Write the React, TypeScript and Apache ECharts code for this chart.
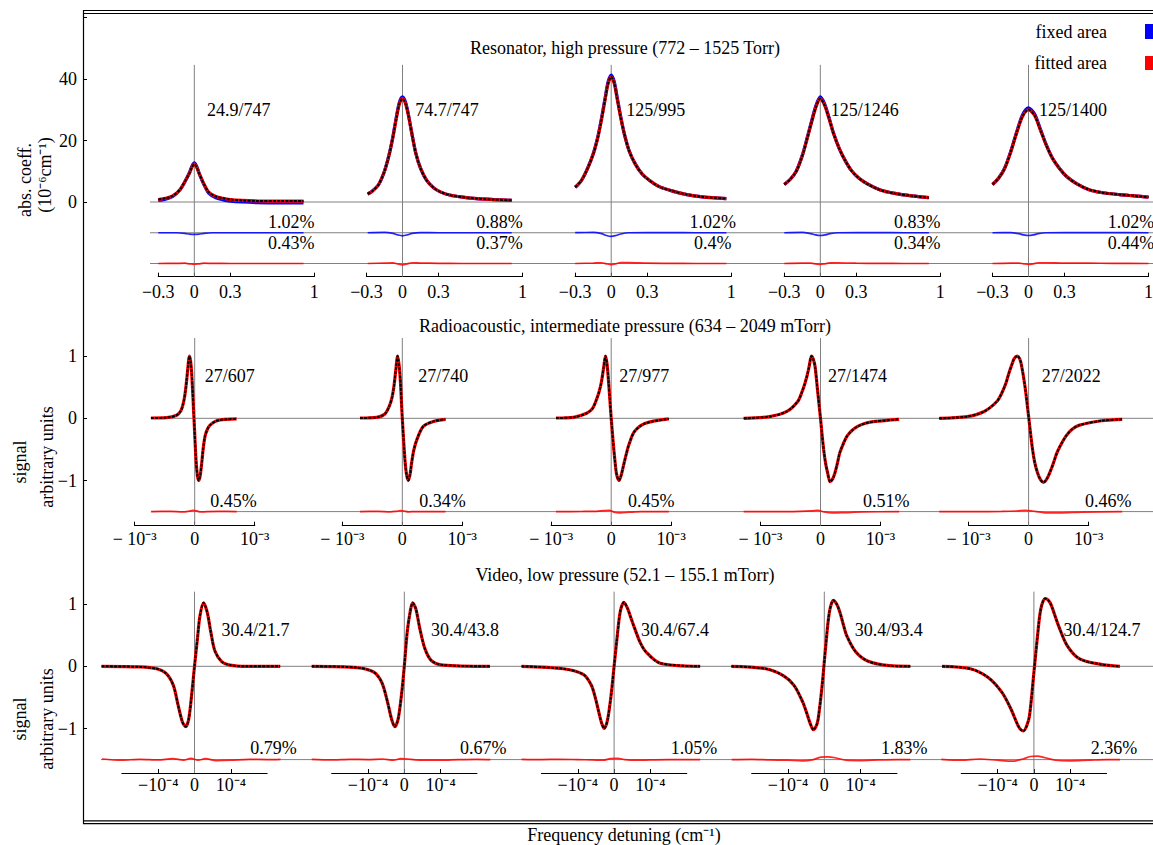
import React, { useEffect, useRef } from "react";
import * as echarts from "echarts";

// ---------- Resonator, high pressure: detuning (cm⁻¹), absorption (10⁻⁶ cm⁻¹) ----------
const resonatorDetuning = [
  [-0.30, -0.24, -0.18, -0.12, -0.08, -0.04, -0.02, 0, 0.02, 0.04, 0.08, 0.12, 0.18, 0.24, 0.30, 0.40, 0.52, 0.70, 0.91],
  [-0.29, -0.25, -0.20, -0.15, -0.11, -0.08, -0.05, -0.025, 0, 0.025, 0.05, 0.08, 0.11, 0.15, 0.20, 0.26, 0.32, 0.40, 0.50, 0.62, 0.76, 0.91],
  [-0.30, -0.25, -0.20, -0.15, -0.11, -0.08, -0.05, -0.025, 0, 0.025, 0.05, 0.08, 0.11, 0.15, 0.20, 0.26, 0.32, 0.40, 0.50, 0.62, 0.76, 0.96],
  [-0.30, -0.25, -0.20, -0.15, -0.11, -0.07, -0.035, 0, 0.035, 0.07, 0.11, 0.16, 0.21, 0.26, 0.32, 0.40, 0.50, 0.62, 0.76, 0.905],
  [-0.30, -0.25, -0.20, -0.15, -0.10, -0.05, 0, 0.05, 0.10, 0.15, 0.20, 0.26, 0.32, 0.40, 0.50, 0.62, 0.76, 0.88, 1.0],
];
const resonatorAbsorption = [
  [0.8, 1.2, 2.0, 4.0, 6.5, 9.4, 11.3, 12.3, 11.3, 9.3, 5.9, 3.2, 1.8, 1.2, 0.8, 0.5, 0.35, 0.3, 0.3],
  [2.6, 3.6, 5.6, 10.0, 15.5, 21.0, 27.5, 32.0, 33.6, 32.0, 28.0, 21.8, 16.0, 11.0, 7.1, 4.6, 3.2, 2.2, 1.6, 1.1, 0.8, 0.55],
  [4.8, 6.9, 10.6, 15.5, 21.2, 27.0, 33.5, 38.6, 40.7, 38.6, 33.5, 27.3, 22.0, 16.6, 12.4, 9.0, 7.0, 5.0, 3.7, 2.5, 1.65, 1.1],
  [5.7, 7.4, 10.0, 15.0, 20.5, 26.3, 31.0, 33.6, 31.5, 27.5, 22.3, 17.2, 13.3, 10.2, 7.8, 5.7, 3.9, 2.8, 2.0, 1.4],
  [5.7, 7.7, 10.8, 16.0, 22.3, 27.8, 30.0, 28.2, 23.3, 18.3, 14.2, 10.8, 8.2, 6.0, 4.1, 3.0, 2.4, 2.0, 1.6],
];
const resonatorFixedAreaFit = [
  [0.5, 0.9, 1.8, 3.9, 6.5, 9.6, 11.6, 12.7, 11.6, 9.4, 5.7, 2.9, 1.4, 0.7, 0.3, 0.0, -0.2, -0.3, -0.3],
  [2.6, 3.6, 5.6, 10.1, 15.7, 21.3, 27.9, 32.5, 34.2, 32.5, 28.3, 21.9, 16.0, 11.0, 7.1, 4.6, 3.2, 2.2, 1.6, 1.1, 0.8, 0.55],
  [4.8, 6.9, 10.7, 15.7, 21.5, 27.4, 34.0, 39.2, 41.3, 39.2, 34.0, 27.6, 22.1, 16.6, 12.4, 9.0, 7.0, 5.0, 3.7, 2.5, 1.65, 1.1],
  [5.7, 7.4, 10.1, 15.2, 20.8, 26.7, 31.5, 34.2, 32.0, 27.8, 22.4, 17.2, 13.3, 10.2, 7.8, 5.7, 3.9, 2.8, 2.0, 1.4],
  [5.7, 7.7, 10.9, 16.2, 22.6, 28.3, 30.6, 28.7, 23.6, 18.4, 14.2, 10.8, 8.2, 6.0, 4.1, 3.0, 2.4, 2.0, 1.6],
];
const resonatorResidualDetuning = [
  [-0.30, -0.15, -0.08, -0.04, 0, 0.04, 0.08, 0.15, 0.30, 0.50, 0.70, 0.91],
  [-0.29, -0.15, -0.08, -0.04, 0, 0.04, 0.08, 0.15, 0.30, 0.50, 0.70, 0.91],
  [-0.30, -0.15, -0.08, -0.04, 0, 0.04, 0.08, 0.15, 0.30, 0.50, 0.70, 0.96],
  [-0.30, -0.15, -0.08, -0.04, 0, 0.04, 0.08, 0.15, 0.30, 0.50, 0.70, 0.905],
  [-0.30, -0.15, -0.08, -0.04, 0, 0.04, 0.08, 0.15, 0.30, 0.50, 0.70, 1.0],
];
const resonatorFixedResidual = [
  [0, 0, -0.2, -0.45, -0.55, -0.45, -0.2, 0, 0, 0, 0, 0],
  [0, 0.1, -0.2, -0.7, -1.0, -0.7, -0.2, 0.05, 0, 0, 0, 0],
  [0.05, 0.1, -0.3, -0.9, -1.2, -0.9, -0.4, 0, 0.05, 0.05, 0, 0],
  [0, 0.1, -0.3, -0.7, -0.9, -0.7, -0.3, 0, 0.05, 0.05, 0, 0],
  [0, 0.05, -0.3, -0.7, -0.9, -0.7, -0.3, 0, 0.05, 0.05, 0.05, 0],
];
const resonatorFittedResidual = [
  [0, 0.05, 0.1, -0.1, -0.25, -0.1, 0.1, 0.05, 0, 0, 0, 0],
  [0, 0.15, 0.2, -0.15, -0.4, -0.1, 0.25, 0.15, 0.05, 0, 0, 0],
  [0, 0.15, 0.25, -0.1, -0.35, -0.1, 0.3, 0.3, 0.1, 0.05, 0, 0],
  [0, 0.1, 0.1, -0.1, -0.3, -0.1, 0.2, 0.25, 0.1, 0.05, 0, 0],
  [0, 0.1, 0.15, -0.1, -0.3, -0.1, 0.25, 0.25, 0.1, 0.1, 0.05, 0],
];
const resonatorLabels = ["24.9/747", "74.7/747", "125/995", "125/1246", "125/1400"];
const resonatorFixedRms = ["1.02%", "0.88%", "1.02%", "0.83%", "1.02%"];
const resonatorFittedRms = ["0.43%", "0.37%", "0.4%", "0.34%", "0.44%"];
const resonatorXTicks = [-0.3, 0, 0.3, 1];
const resonatorYTicks = [0, 20, 40, 60];
const resonatorYLabels = [0, 20, 40];

// ---------- Radioacoustic, intermediate pressure: detuning (10⁻³ cm⁻¹), signal ----------
const radioDetuning = [
  [-0.73, -0.47, -0.30, -0.23, -0.19, -0.16, -0.133, -0.11, -0.09, -0.07, -0.05, -0.012, 0.022, 0.045, 0.067, 0.09, 0.117, 0.14, 0.172, 0.21, 0.255, 0.367, 0.533, 0.70],
  [-0.705, -0.43, -0.29, -0.21, -0.17, -0.14, -0.11, -0.078, -0.04, 0, 0.044, 0.07, 0.10, 0.13, 0.155, 0.19, 0.24, 0.35, 0.52, 0.72],
  [-0.92, -0.63, -0.41, -0.31, -0.25, -0.20, -0.16, -0.125, -0.095, -0.07, -0.045, -0.02, 0, 0.03, 0.06, 0.09, 0.13, 0.165, 0.20, 0.25, 0.30, 0.39, 0.57, 0.96],
  [-1.28, -0.85, -0.56, -0.38, -0.31, -0.26, -0.22, -0.19, -0.15, -0.12, -0.09, -0.05, 0, 0.03, 0.06, 0.09, 0.12, 0.16, 0.20, 0.24, 0.28, 0.32, 0.38, 0.44, 0.52, 0.62, 0.75, 0.91, 1.31],
  [-1.49, -1.03, -0.74, -0.53, -0.45, -0.38, -0.33, -0.28, -0.24, -0.19, -0.15, -0.12, -0.06, 0, 0.06, 0.10, 0.15, 0.20, 0.25, 0.30, 0.35, 0.41, 0.47, 0.54, 0.62, 0.72, 0.85, 1.21, 1.56],
];
const radioSignal = [
  [0.005, 0.01, 0.05, 0.12, 0.24, 0.40, 0.62, 0.85, 1.0, 0.93, 0.72, 0.0, -0.67, -0.92, -1.0, -0.93, -0.72, -0.5, -0.29, -0.18, -0.11, -0.04, -0.016, -0.01],
  [0.005, 0.016, 0.07, 0.21, 0.34, 0.51, 0.76, 1.0, 0.72, 0.0, -0.67, -0.9, -1.0, -0.9, -0.72, -0.52, -0.35, -0.13, -0.05, -0.016],
  [0.005, 0.016, 0.08, 0.16, 0.29, 0.43, 0.6, 0.82, 1.0, 0.88, 0.6, 0.27, 0.0, -0.35, -0.66, -0.9, -1.0, -0.92, -0.78, -0.58, -0.41, -0.21, -0.08, -0.01],
  [0.0, 0.027, 0.11, 0.27, 0.42, 0.56, 0.7, 0.83, 1.0, 0.95, 0.83, 0.46, 0.0, -0.3, -0.56, -0.75, -0.88, -1.02, -0.98, -0.88, -0.73, -0.56, -0.41, -0.29, -0.2, -0.13, -0.08, -0.05, -0.016],
  [0.0, 0.027, 0.11, 0.27, 0.4, 0.56, 0.72, 0.86, 0.96, 1.0, 0.96, 0.86, 0.51, 0.03, -0.46, -0.7, -0.88, -0.99, -1.03, -0.98, -0.88, -0.73, -0.56, -0.42, -0.29, -0.18, -0.11, -0.04, -0.016],
];
const radioResidualDetuning = [
  [-0.73, -0.4, -0.2, -0.1, -0.03, 0.03, 0.1, 0.2, 0.4, 0.70],
  [-0.705, -0.4, -0.2, -0.1, -0.03, 0.03, 0.1, 0.2, 0.4, 0.72],
  [-0.92, -0.5, -0.25, -0.12, -0.03, 0.05, 0.15, 0.3, 0.5, 0.96],
  [-1.28, -0.7, -0.35, -0.15, -0.04, 0.06, 0.2, 0.4, 0.7, 1.31],
  [-1.49, -0.9, -0.45, -0.2, -0.05, 0.06, 0.25, 0.5, 0.9, 1.56],
];
const radioResidual = [
  [0, 0.003, -0.005, 0.006, 0.02, 0.012, -0.006, 0, 0.003, 0],
  [0, 0.003, -0.004, 0.005, 0.015, 0.01, -0.005, 0.002, 0, 0],
  [0, 0.002, 0.005, 0.015, 0.02, -0.01, -0.02, -0.01, 0, 0],
  [0, 0, 0.005, 0.012, 0.02, -0.005, -0.02, -0.015, -0.005, 0],
  [0, 0, 0.003, 0.01, 0.02, 0.01, -0.015, -0.02, -0.008, 0],
];
const radioLabels = ["27/607", "27/740", "27/977", "27/1474", "27/2022"];
const radioRms = ["0.45%", "0.34%", "0.45%", "0.51%", "0.46%"];
const radioXTicks = [-1, 0, 1];

// ---------- Video, low pressure: detuning (10⁻⁴ cm⁻¹), signal ----------
const videoDetuning = [
  [-2.56, -1.50, -1.04, -0.77, -0.58, -0.45, -0.33, -0.24, -0.16, -0.08, 0, 0.08, 0.15, 0.25, 0.35, 0.45, 0.56, 0.75, 0.98, 1.44, 2.36],
  [-2.55, -1.31, -0.85, -0.62, -0.46, -0.35, -0.26, -0.17, -0.07, 0, 0.08, 0.16, 0.23, 0.32, 0.43, 0.57, 0.75, 1.07, 2.36],
  [-2.55, -1.40, -0.85, -0.63, -0.52, -0.42, -0.34, -0.27, -0.18, -0.08, 0, 0.08, 0.17, 0.27, 0.37, 0.48, 0.58, 0.72, 0.88, 1.27, 2.37],
  [-2.56, -1.61, -1.13, -0.83, -0.59, -0.48, -0.40, -0.30, -0.23, -0.17, -0.06, 0.04, 0.14, 0.25, 0.34, 0.43, 0.52, 0.62, 0.87, 1.21, 1.79, 2.37],
  [-2.53, -1.75, -1.26, -0.88, -0.63, -0.44, -0.36, -0.29, -0.20, -0.12, 0, 0.10, 0.19, 0.31, 0.40, 0.48, 0.68, 0.92, 1.26, 1.85, 2.37],
];
const videoSignal = [
  [0, -0.01, -0.04, -0.12, -0.31, -0.63, -0.9, -0.97, -0.85, -0.47, 0.0, 0.44, 0.81, 1.02, 0.87, 0.55, 0.25, 0.075, 0.02, 0.0, 0.0],
  [0, -0.02, -0.09, -0.26, -0.58, -0.85, -0.97, -0.85, -0.42, 0.0, 0.55, 0.87, 1.02, 0.92, 0.6, 0.28, 0.09, 0.02, 0],
  [0, -0.04, -0.13, -0.3, -0.5, -0.74, -0.92, -1.0, -0.86, -0.45, 0.0, 0.45, 0.88, 1.03, 0.93, 0.75, 0.59, 0.38, 0.23, 0.05, 0],
  [0, -0.04, -0.15, -0.31, -0.58, -0.76, -0.9, -1.02, -0.97, -0.85, -0.31, 0.33, 0.87, 1.06, 1.0, 0.87, 0.68, 0.49, 0.23, 0.08, 0.01, 0],
  [0, -0.04, -0.18, -0.42, -0.69, -0.95, -1.02, -1.04, -0.96, -0.79, -0.1, 0.49, 0.92, 1.09, 1.06, 0.98, 0.65, 0.33, 0.12, 0.03, 0],
];
const videoResidualDetuning = [-2.55, -2.0, -1.5, -1.0, -0.6, -0.3, -0.1, 0.1, 0.3, 0.6, 1.0, 1.5, 2.0, 2.37];
const videoResidual = [
  [0.01, -0.01, 0.005, -0.005, 0.015, -0.01, 0.02, -0.01, 0.015, -0.015, -0.01, 0.005, 0.0, 0.005],
  [0.005, -0.005, 0.005, 0, 0.01, -0.01, 0.015, 0.01, -0.005, -0.01, -0.01, 0, 0.005, 0],
  [0.005, 0, 0.005, 0, -0.005, -0.01, 0.015, 0.02, 0.0, -0.01, -0.005, 0, 0, 0],
  [0, 0.005, -0.005, -0.01, -0.02, 0.0, 0.04, 0.045, 0.03, -0.01, -0.015, -0.005, 0, 0],
  [0.005, -0.01, 0.01, -0.01, -0.025, 0.01, 0.05, 0.055, 0.03, -0.01, -0.02, -0.01, 0, 0],
];
const videoLabels = ["30.4/21.7", "30.4/43.8", "30.4/67.4", "30.4/93.4", "30.4/124.7"];
const videoRms = ["0.79%", "0.67%", "1.05%", "1.83%", "2.36%"];
const videoXTicks = [-1, 0, 1];
const signalYTicks = [-1, 0, 1];

// ---------- drawing ----------
const SERIF = "'Liberation Serif', 'Times New Roman', Times, serif";
const GRAY = "#808080";
const BLUE = "#0000ff";
const RED = "#ff0000";
const FRAME_LEFT = 83;
const FRAME_RIGHT = 1153;
const FONT = 18;

const minus = "\u2212";
const fmtSigned = (v: number) => (v < 0 ? minus + String(-v) : String(v));
const fmtPow = (p: string, spaced: boolean) => (v: number) =>
  v === 0 ? "0" : v < 0 ? minus + (spaced ? " " : "") + "10" + p : "10" + p;

type Residual = { x: number[][]; y: number[][]; offset: number; color: string };

const rows = [
  {
    title: "Resonator, high pressure (772 \u2013 1525 Torr)",
    titleY: 48,
    yTitle: ["abs. coeff.", "(10\u207B\u2076cm\u207B\u00B9)"],
    yTitleY: [180, 175],
    yTitleX: [25, 45],
    detuning: resonatorDetuning,
    signal: resonatorAbsorption,
    fixedFit: resonatorFixedAreaFit as number[][] | null,
    residuals: [
      { x: resonatorResidualDetuning, y: resonatorFixedResidual, offset: -10, color: BLUE },
      { x: resonatorResidualDetuning, y: resonatorFittedResidual, offset: -20, color: RED },
    ] as Residual[],
    rules: [0, -10, -20],
    labels: resonatorLabels,
    rms: [resonatorFixedRms, resonatorFittedRms],
    xTicks: resonatorXTicks,
    xFmt: fmtSigned,
    yTicks: resonatorYTicks,
    yLabels: resonatorYLabels,
    L: {
      zeroY: 202, ppu: 3.075, yLo: -24.29, yHi: 60, zeroTop: 44.6,
      origins: [194.3, 402.5, 611.2, 820.3, 1028.5], xScale: 120, xLo: -0.4, xHi: 1.1,
      axLo: -0.3, axHi: 1, axisY: 276.7, labelMargin: 6, ruleStart: 150,
      labelY: 110, labelRel: [44.5, 44.5, 44.5, 44.5, 44.5],
      rmsY: [221.7, 243], rmsRel: [97, 97, 101.5, 97, 102.5],
    },
  },
  {
    title: "Radioacoustic, intermediate pressure (634 \u2013 2049 mTorr)",
    titleY: 326,
    yTitle: ["signal", "arbitrary units"],
    yTitleY: [462, 457],
    yTitleX: [20, 47],
    detuning: radioDetuning,
    signal: radioSignal,
    fixedFit: null,
    residuals: [{ x: radioResidualDetuning, y: radioResidual, offset: -1.5, color: RED }] as Residual[],
    rules: [0, -1.5],
    labels: radioLabels,
    rms: [radioRms],
    xTicks: radioXTicks,
    xFmt: fmtPow("\u207B\u00B3", true),
    yTicks: signalYTicks,
    yLabels: signalYTicks,
    L: {
      zeroY: 418.3, ppu: 62.2, yLo: -1.727, yHi: 1.4, zeroTop: 1.29,
      origins: [194.7, 402.3, 611.2, 820.5, 1028.6], xScale: 60, xLo: -1.7, xHi: 1.7,
      axLo: -1, axHi: 1, axisY: 525.7, labelMargin: 4, ruleStart: 152,
      labelY: 375.7, labelRel: [35, 41, 33, 37, 42.6],
      rmsY: [501], rmsRel: [38.8, 40.2, 40, 65.7, 79.6],
    },
  },
  {
    title: "Video, low pressure (52.1 \u2013 155.1 mTorr)",
    titleY: 575,
    yTitle: ["signal", "arbitrary units"],
    yTitleY: [719, 719],
    yTitleX: [20, 47],
    detuning: videoDetuning,
    signal: videoSignal,
    fixedFit: null,
    residuals: [
      { x: [0, 1, 2, 3, 4].map(() => videoResidualDetuning), y: videoResidual, offset: -1.5, color: RED },
    ] as Residual[],
    rules: [0, -1.5],
    labels: videoLabels,
    rms: [videoRms],
    xTicks: videoXTicks,
    xFmt: fmtPow("\u207B\u2074", false),
    yTicks: signalYTicks,
    yLabels: signalYTicks,
    L: {
      zeroY: 666.3, ppu: 62.2, yLo: -1.715, yHi: 1.35, zeroTop: 1.2,
      origins: [194.5, 404.3, 614.1, 824.3, 1033.9], xScale: 36.3, xLo: -2.8, xHi: 2.6,
      axLo: -2, axHi: 2, axisY: 773, labelMargin: 3, ruleStart: 101,
      labelY: 630, labelRel: [61, 60.7, 61, 64.5, 68],
      rmsY: [748.3], rmsRel: [79, 79, 80, 80, 80],
    },
  },
];

function textEl(text: string, x: number, y: number, align = "center", rotation = 0) {
  return {
    type: "text",
    x,
    y,
    rotation,
    silent: true,
    style: {
      text,
      fill: "#000",
      fontSize: FONT,
      fontFamily: SERIF,
      align,
      textAlign: align,
      verticalAlign: "middle",
      textVerticalAlign: "middle",
    },
  };
}

function lineEl(x1: number, y1: number, x2: number, y2: number, w = 1.2) {
  return { type: "line", silent: true, shape: { x1, y1, x2, y2 }, style: { stroke: "#000", lineWidth: w } };
}

function buildOption() {
  const grid: any[] = [];
  const xAxis: any[] = [];
  const yAxis: any[] = [];
  const series: any[] = [];
  const graphic: any[] = [];

  const addGrid = (g: any, xa: any, ya: any) => {
    grid.push({ ...g, containLabel: false, outerBoundsMode: "none", show: false });
    const i = grid.length - 1;
    xAxis.push({ ...xa, gridIndex: i });
    yAxis.push({ ...ya, gridIndex: i });
    return i;
  };
  const hidden = (min: number, max: number) => ({ type: "value", min, max, show: false });
  const labelStyle = { fontFamily: SERIF, fontSize: FONT, color: "#000" };

  rows.forEach((row) => {
    const L = row.L;
    const top = L.zeroY - L.yHi * L.ppu;
    const height = (L.yHi - L.yLo) * L.ppu;
    const span = FRAME_RIGHT - FRAME_LEFT;

    // frame axis of the row with its reference rules
    const rg = addGrid(
      { left: FRAME_LEFT, top, width: span, height },
      hidden(0, span),
      {
        type: "value",
        min: L.yLo,
        max: L.yHi,
        position: "left",
        axisLine: { show: false },
        axisTick: { show: true, inside: true, length: 4, customValues: row.yTicks, lineStyle: { color: "#000", width: 1 } },
        axisLabel: { show: true, customValues: row.yLabels, formatter: fmtSigned, margin: 6, ...labelStyle },
        splitLine: { show: false },
      }
    );
    row.rules.forEach((v) =>
      series.push({
        type: "line",
        xAxisIndex: rg,
        yAxisIndex: rg,
        data: [
          [L.ruleStart - FRAME_LEFT, v],
          [span, v],
        ],
        symbol: "none",
        silent: true,
        z: 1,
        lineStyle: { color: GRAY, width: 1 },
      })
    );

    row.detuning.forEach((xs, p) => {
      const x0 = L.origins[p];
      const dg = addGrid(
        { left: x0 + L.xLo * L.xScale, top, width: (L.xHi - L.xLo) * L.xScale, height },
        hidden(L.xLo, L.xHi),
        hidden(L.yLo, L.yHi)
      );
      const base = { type: "line", xAxisIndex: dg, yAxisIndex: dg, symbol: "none", silent: true };

      // zero detuning
      series.push({
        ...base,
        data: [
          [0, L.zeroTop],
          [0, L.yLo],
        ],
        z: 1,
        lineStyle: { color: GRAY, width: 1 },
      });

      // residuals
      row.residuals.forEach((res) => {
        series.push({
          ...base,
          data: res.x[p].map((x, i) => [x, res.offset + res.y[p][i]]),
          smooth: 0.3,
          z: 2,
          lineStyle: { color: res.color, width: 1.7, opacity: 0.85 },
        });
      });

      const pts = xs.map((x, i) => [x, row.signal[p][i]]);
      if (row.fixedFit) {
        series.push({
          ...base,
          name: "fixed area",
          data: xs.map((x, i) => [x, row.fixedFit![p][i]]),
          smooth: 0.3,
          z: 3,
          lineStyle: { color: BLUE, width: 3.2 },
        });
      }
      series.push({ ...base, name: "fitted area", data: pts, smooth: 0.3, z: 4, lineStyle: { color: RED, width: 3.2 } });
      series.push({
        ...base,
        name: "measured",
        data: pts,
        smooth: 0.3,
        z: 5,
        lineStyle: { color: "#000", width: 2, type: [3, 1.2] },
      });

      // detuning axis under the panel
      addGrid(
        { left: x0 + L.axLo * L.xScale, top: L.axisY - 20, width: (L.axHi - L.axLo) * L.xScale, height: 20 },
        {
          type: "value",
          min: L.axLo,
          max: L.axHi,
          position: "bottom",
          axisLine: { show: true, onZero: false, lineStyle: { color: "#000", width: 1.2 } },
          axisTick: { show: true, inside: true, length: 4, customValues: row.xTicks, lineStyle: { color: "#000", width: 1 } },
          axisLabel: {
            show: true,
            customValues: row.xTicks,
            formatter: row.xFmt,
            margin: L.labelMargin,
            showMinLabel: true,
            showMaxLabel: true,
            hideOverlap: false,
            ...labelStyle,
          },
          splitLine: { show: false },
        },
        hidden(0, 1)
      );

      graphic.push(textEl(row.labels[p], x0 + L.labelRel[p], L.labelY));
      row.rms.forEach((r, k) => graphic.push(textEl(r[p], x0 + L.rmsRel[p], L.rmsY[k])));
    });

    graphic.push(textEl(row.title, 625, row.titleY));
    row.yTitle.forEach((t, k) => graphic.push(textEl(t, row.yTitleX[k], row.yTitleY[k], "center", Math.PI / 2)));
  });

  // outer frame
  graphic.push(lineEl(FRAME_LEFT, 10.5, FRAME_RIGHT, 10.5));
  graphic.push(lineEl(FRAME_LEFT, 13.5, FRAME_RIGHT, 13.5));
  graphic.push(lineEl(FRAME_LEFT, 820.8, FRAME_RIGHT, 820.8));
  graphic.push(lineEl(FRAME_LEFT, 823.6, FRAME_RIGHT, 823.6));
  graphic.push(lineEl(FRAME_LEFT + 0.5, 10, FRAME_LEFT + 0.5, 824));

  // legend
  graphic.push(textEl("fixed area", 1107, 32.3, "right"));
  graphic.push(textEl("fitted area", 1107, 63.3, "right"));
  graphic.push({ type: "rect", silent: true, shape: { x: 1145, y: 24, width: 12, height: 15 }, style: { fill: BLUE } });
  graphic.push({ type: "rect", silent: true, shape: { x: 1145, y: 56, width: 12, height: 14 }, style: { fill: RED } });

  // shared horizontal title
  graphic.push(textEl("Frequency detuning (cm\u207B\u00B9)", 624, 835));

  return {
    animation: false,
    backgroundColor: "#fff",
    textStyle: { fontFamily: SERIF },
    grid,
    xAxis,
    yAxis,
    series,
    graphic,
  };
}

export default function App() {
  const ref = useRef<HTMLDivElement>(null);
  useEffect(() => {
    if (!ref.current) return;
    const chart = echarts.init(ref.current, null, { renderer: "svg" });
    chart.setOption(buildOption());
    return () => chart.dispose();
  }, []);
  return (
    <div
      ref={ref}
      style={{ position: "fixed", left: 0, top: 0, width: 1153, height: 845, background: "#fff" }}
    />
  );
}
